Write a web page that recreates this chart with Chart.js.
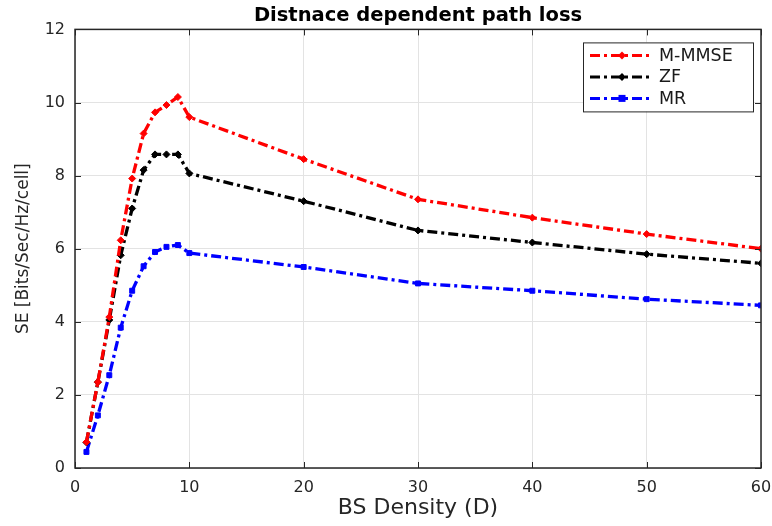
<!DOCTYPE html>
<html>
<head>
<meta charset="utf-8">
<script src="https://cdn.jsdelivr.net/npm/chart.js@4/dist/chart.umd.min.js"></script>
<style>
  html, body { margin: 0; padding: 0; background: #fff; }
  #wrap { width: 772px; height: 526px; }
</style>
</head>
<body>
<div id="wrap"><canvas id="chart" width="772" height="526"></canvas></div>
<script>
"use strict";

// ── DATA ────────────────────────────────────
const density = [1, 2, 3, 4, 5, 6, 7, 8, 9, 10, 20, 30, 40, 50, 60];
const seMMMSE = [0.71, 2.35, 4.13, 6.23, 7.92, 9.15, 9.73, 9.93, 10.15, 9.6, 8.45, 7.35, 6.85, 6.4, 6.0];
const seZF    = [0.70, 2.35, 4.05, 5.82, 7.10, 8.15, 8.58, 8.58, 8.58, 8.06, 7.3, 6.5, 6.17, 5.85, 5.6];
const seMR    = [0.44, 1.44, 2.54, 3.84, 4.85, 5.52, 5.91, 6.05, 6.10, 5.88, 5.5, 5.05, 4.85, 4.62, 4.45];
const xTicks  = [0, 10, 20, 30, 40, 50, 60];
const yTicks  = [0, 2, 4, 6, 8, 10, 12];

const FONT  = "'DejaVu Sans', 'Liberation Sans', Arial, sans-serif";
const DASH  = [10, 4, 3, 4];
const pts   = ys => ys.map((y, i) => ({ x: density[i], y }));

// ── FRAME + INNER TICKS (matlab style box) ──
const boxPlugin = {
  id: "box",
  afterDatasetsDraw(chart) {
    const { ctx, chartArea: a, scales: { x, y } } = chart;
    ctx.save();
    ctx.strokeStyle = "#262626";
    ctx.lineWidth = 1.5;
    ctx.strokeRect(a.left, a.top, a.right - a.left, a.bottom - a.top);
    ctx.lineWidth = 1;
    xTicks.forEach(v => {
      const px = Math.round(x.getPixelForValue(v)) + 0.5;
      ctx.beginPath();
      ctx.moveTo(px, a.bottom); ctx.lineTo(px, a.bottom - 6);
      ctx.moveTo(px, a.top);    ctx.lineTo(px, a.top + 6);
      ctx.stroke();
    });
    yTicks.forEach(v => {
      const py = Math.round(y.getPixelForValue(v)) + 0.5;
      ctx.beginPath();
      ctx.moveTo(a.left, py);  ctx.lineTo(a.left + 6, py);
      ctx.moveTo(a.right, py); ctx.lineTo(a.right - 6, py);
      ctx.stroke();
    });
    ctx.restore();
  }
};

// ── LEGEND inside top-right ─────────────────
const legendPlugin = {
  id: "boxLegend",
  afterDraw(chart) {
    const { ctx, chartArea: a } = chart;
    const bx = a.right - 178, by = a.top + 13, bw = 170, bh = 69;
    ctx.save();
    ctx.fillStyle = "#fff";
    ctx.fillRect(bx, by, bw, bh);
    ctx.strokeStyle = "#262626";
    ctx.lineWidth = 1;
    ctx.strokeRect(bx + 0.5, by + 0.5, bw, bh);
    ctx.font = "17.5px " + FONT;
    ctx.textBaseline = "middle";
    chart.data.datasets.forEach((ds, i) => {
      const ly = by + 13 + i * 21.5;
      ctx.strokeStyle = ds.borderColor;
      ctx.lineWidth = 3;
      ctx.setLineDash(DASH);
      ctx.beginPath();
      ctx.moveTo(bx + 7, ly); ctx.lineTo(bx + 70, ly);
      ctx.stroke();
      ctx.setLineDash([]);
      ctx.fillStyle = ds.borderColor;
      const mx = bx + 39;
      if (ds.pointStyle === "rect") {
        ctx.fillRect(mx - 3.5, ly - 3.5, 7, 7);
      } else {
        ctx.beginPath();
        ctx.moveTo(mx, ly - 4); ctx.lineTo(mx + 4, ly);
        ctx.lineTo(mx, ly + 4); ctx.lineTo(mx - 4, ly);
        ctx.closePath(); ctx.fill();
      }
      ctx.fillStyle = "#1a1a1a";
      ctx.fillText(ds.label, bx + 76, ly + 1);
    });
    ctx.restore();
  }
};

function series(label, color, ys, style, r) {
  return {
    label, data: pts(ys),
    borderColor: color, backgroundColor: color,
    borderWidth: 3.3, borderDash: DASH,
    pointStyle: style, pointRadius: r, pointBorderWidth: 1,
    tension: 0, fill: false
  };
}

new Chart(document.getElementById("chart"), {
  type: "line",
  data: {
    datasets: [
      series("M-MMSE", "#ff0000", seMMMSE, "rectRot", 3.5),
      series("ZF",     "#000000", seZF,    "rectRot", 3.5),
      series("MR",     "#0000ff", seMR,    "rect",    3.5)
    ]
  },
  options: {
    responsive: false,
    animation: false,
    layout: { padding: { left: 0, right: 11, top: 0, bottom: 0 } },
    plugins: {
      legend: { display: false },
      tooltip: { enabled: false },
      title: {
        display: true,
        fullSize: false,
        text: "Distnace dependent path loss",
        color: "#000",
        font: { family: FONT, size: 19.5, weight: "bold" },
        padding: { top: 4, bottom: 2 }
      }
    },
    scales: {
      x: {
        type: "linear", min: 0, max: 60,
        afterBuildTicks: s => { s.ticks = xTicks.map(v => ({ value: v })); },
        afterFit: s => { s.height = 58; s.paddingRight = 0; s.paddingLeft = 0; },
        border: { display: false },
        grid: { color: "#e3e3e3", drawTicks: false },
        ticks: { color: "#262626", padding: 10, maxRotation: 0, font: { family: FONT, size: 16 } },
        title: {
          display: true, text: "BS Density (D)", color: "#262626",
          font: { family: FONT, size: 22 }, padding: { top: 0, bottom: 5 }
        }
      },
      y: {
        min: 0, max: 12,
        afterBuildTicks: s => { s.ticks = yTicks.map(v => ({ value: v })); },
        afterFit: s => { s.width = 75; s.paddingTop = 0; s.paddingBottom = 0; },
        border: { display: false },
        grid: { color: "#e3e3e3", drawTicks: false },
        ticks: { color: "#262626", padding: 10, font: { family: FONT, size: 16 } },
        title: {
          display: true, text: "SE [Bits/Sec/Hz/cell]", color: "#262626",
          font: { family: FONT, size: 17 }, padding: { top: 13, bottom: 0 }
        }
      }
    }
  },
  plugins: [boxPlugin, legendPlugin]
});
</script>
</body>
</html>
